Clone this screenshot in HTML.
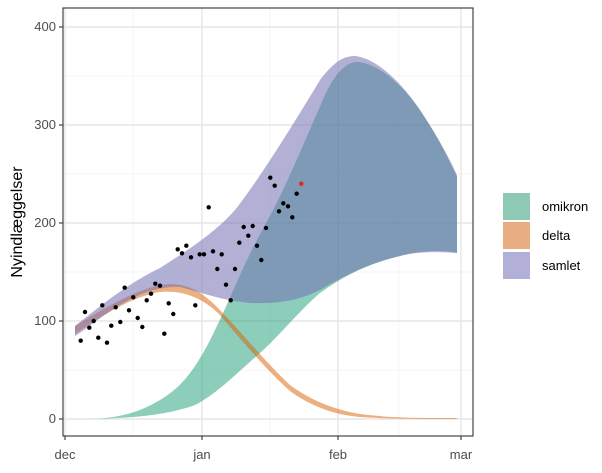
<!DOCTYPE html>
<html><head><meta charset="utf-8"><style>
body{margin:0;background:#fff;}
text{font-family:"Liberation Sans",sans-serif;fill:#4d4d4d;}
</style></head><body>
<svg width="602" height="468" xmlns="http://www.w3.org/2000/svg">
<rect width="602" height="468" fill="#fff"/>
<g stroke="#f0f0f0" stroke-width="0.7">
<line x1="63" x2="473" y1="76" y2="76"/><line x1="63" x2="473" y1="174" y2="174"/><line x1="63" x2="473" y1="272" y2="272"/><line x1="63" x2="473" y1="370" y2="370"/>
<line y1="8" y2="436" x1="133" x2="133"/><line y1="8" y2="436" x1="270" x2="270"/><line y1="8" y2="436" x1="399" x2="399"/>
</g>
<g stroke="#e6e6e6" stroke-width="1.4">
<line x1="63" x2="473" y1="27" y2="27"/><line x1="63" x2="473" y1="125" y2="125"/><line x1="63" x2="473" y1="223" y2="223"/><line x1="63" x2="473" y1="321" y2="321"/><line x1="63" x2="473" y1="419" y2="419"/>
<line y1="8" y2="436" x1="65" x2="65"/><line y1="8" y2="436" x1="202" x2="202"/><line y1="8" y2="436" x1="338" x2="338"/><line y1="8" y2="436" x1="461" x2="461"/>
</g>
<!-- omikron -->
<path d="M90,419 C120,418 140,412 160,400 C180,388 195,372 215,330 C230,300 245,260 265,225 C285,190 305,140 325,95 C338,68 348,62 358,62 C378,64 400,82 420,110 C440,140 450,162 457,177 L457,253 C445,250 420,250 400,256 C370,263 345,275 320,293 C300,310 280,335 260,353 C235,375 215,395 195,405 C170,414 140,418 90,419 Z" fill="rgba(27,158,119,0.5)"/>
<!-- delta -->
<path d="M75,326 C100,311 130,292 160,285 C180,282 195,286 215,305 C240,330 265,362 290,385 C310,400 335,410 360,414 C390,418 420,418 457,418 L457,419 C420,419 390,419 360,417 C335,415 310,406 290,391 C265,369 240,338 218,313 C200,296 180,290 160,292 C130,297 100,317 75,334 Z" fill="rgba(217,95,2,0.5)"/>
<!-- samlet -->
<path d="M75,326 C100,306 130,282 160,268 C185,252 215,233 235,210 C255,185 290,130 320,80 C335,60 345,56 355,56 C375,58 400,80 420,110 C440,140 450,160 457,175 L457,253 C440,252 420,251 400,256 C370,263 345,275 320,290 C300,300 280,304 250,303 C220,300 200,292 180,287 C160,286 140,293 120,305 C100,317 85,330 75,336 Z" fill="rgba(117,112,179,0.55)"/>
<g fill="#000">
<circle cx="80.7" cy="340.7" r="2.2"/><circle cx="85" cy="312" r="2.2"/><circle cx="89.3" cy="327.7" r="2.2"/><circle cx="93.7" cy="321" r="2.2"/><circle cx="98.3" cy="337.7" r="2.2"/><circle cx="102.3" cy="305.3" r="2.2"/><circle cx="107" cy="342.7" r="2.2"/><circle cx="111.3" cy="325.7" r="2.2"/><circle cx="115.7" cy="307.3" r="2.2"/><circle cx="120.3" cy="322" r="2.2"/><circle cx="124.7" cy="287.7" r="2.2"/><circle cx="129" cy="310.3" r="2.2"/><circle cx="133.3" cy="297.3" r="2.2"/><circle cx="137.7" cy="318" r="2.2"/><circle cx="142.3" cy="327" r="2.2"/><circle cx="146.7" cy="300.3" r="2.2"/><circle cx="151" cy="293.7" r="2.2"/><circle cx="155.3" cy="283.7" r="2.2"/><circle cx="160" cy="285.7" r="2.2"/><circle cx="164.3" cy="333.7" r="2.2"/><circle cx="168.7" cy="303.3" r="2.2"/><circle cx="173.3" cy="314" r="2.2"/><circle cx="177.7" cy="249.3" r="2.2"/><circle cx="182" cy="253.3" r="2.2"/><circle cx="186.3" cy="245.7" r="2.2"/><circle cx="191" cy="257.3" r="2.2"/><circle cx="195.3" cy="305.3" r="2.2"/><circle cx="199.7" cy="254.3" r="2.2"/><circle cx="204" cy="254.3" r="2.2"/><circle cx="208.7" cy="207.3" r="2.2"/><circle cx="213" cy="251.3" r="2.2"/><circle cx="217.3" cy="269" r="2.2"/><circle cx="221.7" cy="254.3" r="2.2"/><circle cx="226" cy="284.7" r="2.2"/><circle cx="230.7" cy="300.3" r="2.2"/><circle cx="235" cy="269" r="2.2"/><circle cx="239.3" cy="242.7" r="2.2"/><circle cx="243.7" cy="227" r="2.2"/><circle cx="248.3" cy="235.7" r="2.2"/><circle cx="252.7" cy="226" r="2.2"/><circle cx="257" cy="245.7" r="2.2"/><circle cx="261.3" cy="260" r="2.2"/><circle cx="266" cy="228" r="2.2"/><circle cx="270.3" cy="177.7" r="2.2"/><circle cx="274.7" cy="185.7" r="2.2"/><circle cx="279" cy="211.3" r="2.2"/><circle cx="283.3" cy="203.3" r="2.2"/><circle cx="288" cy="206.3" r="2.2"/><circle cx="292.3" cy="217.3" r="2.2"/><circle cx="296.7" cy="193.7" r="2.2"/>
</g>
<circle cx="301.3" cy="183.7" r="2.2" fill="#e8231c"/>
<rect x="63" y="8" width="410" height="428" fill="none" stroke="#333" stroke-width="1.1"/>
<g stroke="#333" stroke-width="1.1">
<line x1="59" x2="63" y1="27" y2="27"/><line x1="59" x2="63" y1="125" y2="125"/><line x1="59" x2="63" y1="223" y2="223"/><line x1="59" x2="63" y1="321" y2="321"/><line x1="59" x2="63" y1="419" y2="419"/>
<line y1="436" y2="440" x1="65" x2="65"/><line y1="436" y2="440" x1="202" x2="202"/><line y1="436" y2="440" x1="338" x2="338"/><line y1="436" y2="440" x1="461" x2="461"/>
</g>
<g font-size="13" text-anchor="end">
<text x="56" y="31">400</text><text x="56" y="129">300</text><text x="56" y="227">200</text><text x="56" y="325">100</text><text x="56" y="423">0</text>
</g>
<g font-size="13" text-anchor="middle">
<text x="65" y="459">dec</text><text x="202" y="459">jan</text><text x="338" y="459">feb</text><text x="461" y="459">mar</text>
</g>
<text transform="translate(22,222) rotate(-90)" text-anchor="middle" font-size="16" style="fill:#000">Nyindlæggelser</text>
<rect x="503" y="193" width="27" height="27" fill="#8dc9b5"/>
<rect x="503" y="222" width="27" height="27" fill="#e8ad80"/>
<rect x="503" y="252" width="27" height="27" fill="#b3b0d7"/>
<g font-size="13">
<text x="542" y="211" style="fill:#000">omikron</text><text x="542" y="240" style="fill:#000">delta</text><text x="542" y="270" style="fill:#000">samlet</text>
</g>
</svg>
</body></html>
